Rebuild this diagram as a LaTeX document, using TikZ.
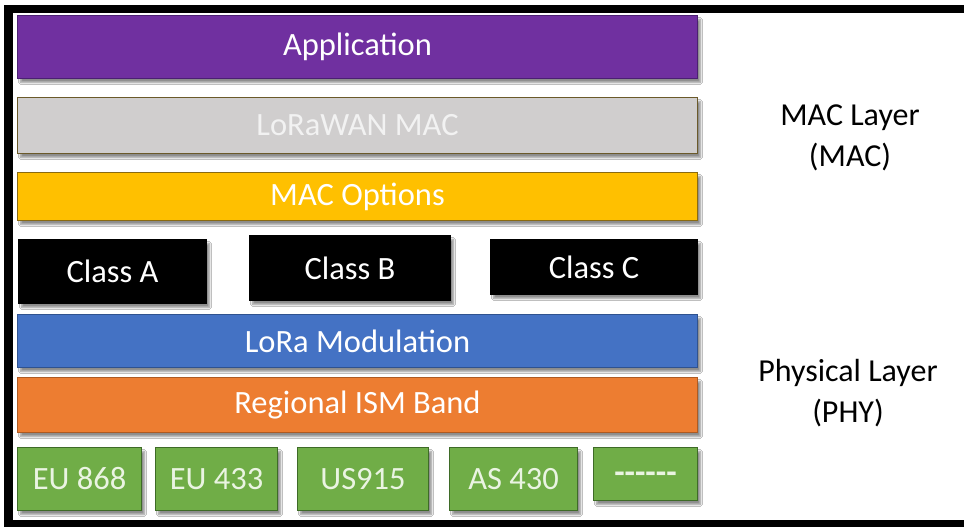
\documentclass[tikz,border=0pt]{standalone}
\usepackage{fontspec}
\setmainfont{Carlito}
\usetikzlibrary{shadows.blur}
\definecolor{appfill}{HTML}{7030A0}
\definecolor{appline}{HTML}{4B2072}
\definecolor{macfill}{HTML}{D0CECE}
\definecolor{macline}{HTML}{6B5A2A}
\definecolor{mactext}{HTML}{F2F2F2}
\definecolor{optfill}{HTML}{FFC000}
\definecolor{optline}{HTML}{8A6A10}
\definecolor{lorafill}{HTML}{4472C4}
\definecolor{loraline}{HTML}{2F528F}
\definecolor{ismfill}{HTML}{ED7D31}
\definecolor{ismline}{HTML}{AE5A21}
\definecolor{bandfill}{HTML}{70AD47}
\definecolor{bandline}{HTML}{3E6B27}
\definecolor{bandtext}{HTML}{EAF4E2}
\begin{document}
\begin{tikzpicture}[x=1pt,y=-1pt,
  boxtext/.style={font=\fontsize{32.5}{38}\selectfont},
  layerbox/.style={boxtext, draw, line width=1pt, inner sep=0pt, anchor=north west,
    text=white,
    blur shadow={shadow xshift=3pt, shadow yshift=-4pt, shadow blur steps=6, shadow opacity=45}},
  fullrow/.style={layerbox, minimum width=680pt},
  classbox/.style={layerbox, fill=black, draw=black},
  bandbox/.style={layerbox, fill=bandfill, draw=bandline, text=bandtext},
  sidelabel/.style={align=center, font=\fontsize{32}{41}\selectfont}
]
\useasboundingbox (0,0) rectangle (964,527);
\fill[white] (0,0) rectangle (964,527);

% frame
\fill[black] (4,5) rectangle (964,13);
\fill[black] (4,5) rectangle (13,527);
\fill[black] (4,520) rectangle (964,527);

% protocol stack rows
\node[fullrow, minimum height=63pt, fill=appfill, draw=appline] (app) at (17,15) {Application};
\node[fullrow, minimum height=56pt, fill=macfill, draw=macline, text=mactext] (mac) at (17,97) {LoRaWAN MAC};
\node[fullrow, minimum height=48pt, fill=optfill, draw=optline] (opt) at (17,172) {MAC Options};

\node[classbox, minimum width=188pt, minimum height=64pt] (ca) at (18,239) {Class A};
\node[classbox, minimum width=201pt, minimum height=65pt] (cb) at (249,235) {Class B};
\node[classbox, minimum width=207pt, minimum height=55pt] (cc) at (490,239) {Class C};

\node[fullrow, minimum height=53pt, fill=lorafill, draw=loraline] (lora) at (17,314) {LoRa Modulation};
\node[fullrow, minimum height=55pt, fill=ismfill, draw=ismline] (ism) at (17,377) {Regional ISM Band};

\node[bandbox, minimum width=124pt, minimum height=63pt] (eu868) at (17,447) {EU 868};
\node[bandbox, minimum width=122pt, minimum height=63pt] (eu433) at (155,447) {EU 433};
\node[bandbox, minimum width=131pt, minimum height=63pt] (us915) at (297,447) {US915};
\node[bandbox, minimum width=128pt, minimum height=63pt] (as430) at (449,447) {AS 430};
\node[bandbox, minimum width=104pt, minimum height=53pt, text height=0pt, text depth=0pt,
  font=\fontsize{34}{38}\selectfont\bfseries] (more) at (593,447) {\raisebox{-9pt}{{-}{-}{-}{-}{-}{-}}};

% layer names
\node[sidelabel] (maclabel) at (850,138) {MAC Layer\\(MAC)};
\node[sidelabel] (phylabel) at (848,393) {Physical Layer\\(PHY)};
\end{tikzpicture}
\end{document}
